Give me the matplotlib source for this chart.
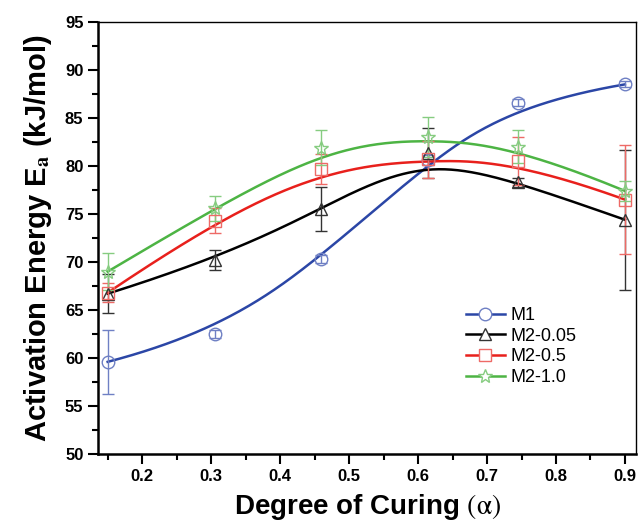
import matplotlib
matplotlib.use("Agg")
import matplotlib.pyplot as plt
import numpy as np
from matplotlib.lines import Line2D
from matplotlib.ticker import MultipleLocator

plt.rcParams['font.family'] = ['Liberation Sans', 'DejaVu Sans']
plt.rcParams['mathtext.fontset'] = 'stix'

# degree of curing
alpha = [0.15, 0.305, 0.46, 0.615, 0.745, 0.9]

# activation energies (kJ/mol) and error bars
m1 = [59.6, 62.5, 70.3, 80.6, 86.6, 88.5]
m1_err = [3.3, 0.4, 0.4, 0.5, 0.4, 0.3]
m2_005 = [66.7, 70.2, 75.5, 81.4, 78.3, 74.4]
m2_005_err = [2.0, 1.0, 2.3, 2.6, 0.5, 7.3]
m2_05 = [66.8, 74.3, 79.7, 80.7, 80.5, 76.5]
m2_05_err = [1.0, 1.3, 1.6, 1.9, 2.5, 5.7]
m2_10 = [69.0, 75.6, 81.9, 83.0, 82.0, 77.4]
m2_10_err = [1.9, 1.3, 1.8, 2.1, 1.7, 1.0]

labels = ['M1', 'M2-0.05', 'M2-0.5', 'M2-1.0']
colors = ['#2b46a6', '#000000', '#e8201c', '#4db444']
light = ['#6f80c4', '#333333', '#ee6a66', '#86cc80']
markers = ['o', '^', 's', '*']
sizes = [9, 9, 8, 10]


def bspline(px, py, k=3, n=300):
    # clamped B-spline using the data points as control points (Origin style)
    m = len(px)
    inner = np.linspace(0, 1, m - k + 1)[1:-1]
    t = np.concatenate([np.zeros(k + 1), inner, np.ones(k + 1)])
    u = np.linspace(0, 1, n)
    u[-1] = 1 - 1e-9
    B = np.zeros((n, len(t) - 1))
    for j in range(len(t) - 1):
        B[:, j] = (u >= t[j]) & (u < t[j + 1])
    for d in range(1, k + 1):
        Bn = np.zeros((n, len(t) - d - 1))
        for j in range(len(t) - d - 1):
            a = 0 if t[j + d] == t[j] else (u - t[j]) / (t[j + d] - t[j])
            b = 0 if t[j + d + 1] == t[j + 1] else (t[j + d + 1] - u) / (t[j + d + 1] - t[j + 1])
            Bn[:, j] = a * B[:, j] + b * B[:, j + 1]
        B = Bn
    return B @ np.array(px), B @ np.array(py)


fig = plt.figure(figsize=(6.39, 5.23), dpi=100)
ax = fig.add_axes([0.1534, 0.1319, 0.8419, 0.8261])

series = [(m1, m1_err), (m2_005, m2_005_err), (m2_05, m2_05_err), (m2_10, m2_10_err)]
for i, (ys, err) in enumerate(series):
    cx, cy = bspline(alpha, ys)
    ax.plot(cx, cy, color=colors[i], lw=1.8, zorder=2)
    ax.errorbar(alpha, ys, yerr=err, fmt=markers[i], ms=sizes[i], mfc='none',
                mec=light[i], mew=1.0, ecolor=light[i], elinewidth=1.0,
                capsize=4, capthick=1.0, zorder=3)

ax.set_xlim(0.136, 0.916)
ax.set_ylim(50, 95)
ax.xaxis.set_major_locator(MultipleLocator(0.1))
ax.xaxis.set_minor_locator(MultipleLocator(0.05))
ax.yaxis.set_major_locator(MultipleLocator(5))
ax.yaxis.set_minor_locator(MultipleLocator(2.5))
ax.set_xticks([0.2, 0.3, 0.4, 0.5, 0.6, 0.7, 0.8, 0.9])
ax.tick_params(which='both', direction='out', width=1.5, top=False, right=False)
ax.tick_params(which='major', length=7, labelsize=12)
ax.tick_params(which='minor', length=4)
for lab in ax.get_xticklabels() + ax.get_yticklabels():
    lab.set_fontweight('bold')
ax.spines['left'].set_linewidth(1.8)
ax.spines['bottom'].set_linewidth(1.8)
ax.spines['top'].set_linewidth(1.0)
ax.spines['right'].set_linewidth(1.0)

ax.set_xlabel(r'Degree of Curing $(\mathrm{\alpha})$', fontsize=20, fontweight='bold', labelpad=6)
ax.set_ylabel(r'Activation Energy E$_\mathbf{a}$ (kJ/mol)', fontsize=21, fontweight='bold', labelpad=8)

handles = [Line2D([], [], color=colors[i], lw=1.8, marker=markers[i], ms=sizes[i],
                  mfc='white', mec=light[i], mew=1.0) for i in range(4)]
ax.legend(handles, labels, loc='lower right', bbox_to_anchor=(0.92, 0.12),
          frameon=False, fontsize=13, handlelength=2.2, handletextpad=0.3,
          labelspacing=0.2)

fig.savefig('out.png', dpi=100)
